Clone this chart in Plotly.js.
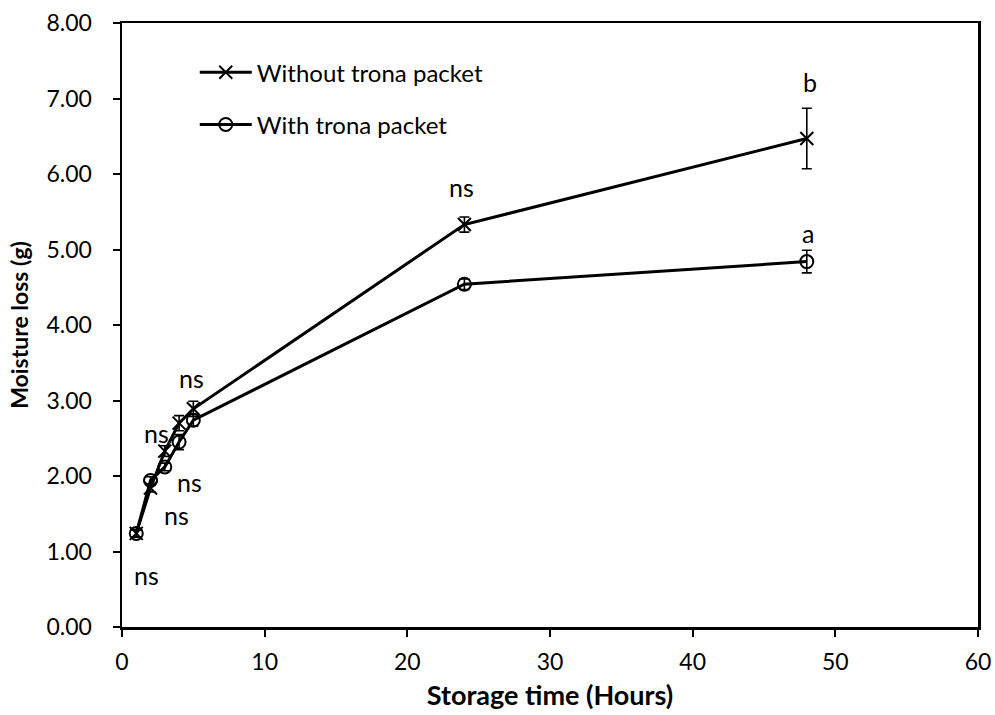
<!DOCTYPE html>
<html>
<head>
<meta charset="utf-8">
<script src="https://cdn.plot.ly/plotly-3.0.1.min.js"></script>
<style>html,body{margin:0;padding:0;background:#fff;}#chart{width:995px;height:715px;}</style>
</head>
<body>
<div id="chart"></div>
<script>
const hours = [1, 2, 3, 4, 5, 24, 48];
const withoutTrona = [1.24, 1.84, 2.33, 2.70, 2.89, 5.33, 6.47];
const withoutErr = [0.05, 0.05, 0.07, 0.10, 0.10, 0.10, 0.40];
const withTrona = [1.24, 1.94, 2.12, 2.45, 2.74, 4.54, 4.84];
const withErr = [0.05, 0.05, 0.05, 0.10, 0.08, 0.07, 0.15];
const labelText = ["ns", "ns", "ns", "ns", "ns", "ns", "b", "a"];
const labelX = [1.7, 3.8, 4.7, 2.4, 4.9, 23.8, 48.2, 48.1];
const labelY = [0.69, 1.48, 1.92, 2.57, 3.30, 5.83, 7.22, 5.22];

const font = "Lato, 'Open Sans', sans-serif";

const traces = [
  {
    x: hours, y: withoutTrona, name: "Without trona packet", legendgroup: "a",
    type: "scatter", mode: "lines+markers",
    line: {color: "#000", width: 3},
    marker: {symbol: "x-thin-open", size: 13, color: "#000", line: {color: "#000", width: 2}},
    error_y: {type: "data", array: withoutErr, visible: true, color: "#000", thickness: 1.6, width: 5}
  },
  {
    x: hours, y: withTrona, name: "With trona packet", legendgroup: "b",
    type: "scatter", mode: "lines+markers",
    line: {color: "#000", width: 3},
    marker: {symbol: "circle-open", size: 13, color: "#000", line: {color: "#000", width: 2}},
    error_y: {type: "data", array: withErr, visible: true, color: "#000", thickness: 1.6, width: 5}
  }
];

const annotations = labelText.map((t, i) => ({
  x: labelX[i], y: labelY[i], xref: "x", yref: "y", text: t, showarrow: false,
  font: {family: font, size: 25, color: "#000"}
}));

const layout = {
  width: 995, height: 715,
  margin: {l: 122, r: 17, t: 23, b: 88},
  paper_bgcolor: "#fff", plot_bgcolor: "#fff",
  font: {family: font, color: "#000", size: 22},
  showlegend: true,
  legend: {x: 0.085, y: 0.955, xanchor: "left", yanchor: "top", bgcolor: "rgba(0,0,0,0)",
    font: {family: font, size: 24, color: "#000"}, tracegroupgap: 18, itemwidth: 52},
  xaxis: {
    range: [0, 60], dtick: 10, tick0: 0, showgrid: false, zeroline: false,
    showline: true, mirror: true, linecolor: "#000", linewidth: 2.5,
    ticks: "outside", ticklen: 7, tickwidth: 2, tickcolor: "#000",
    ticklabelstandoff: 6,
    tickfont: {family: font, size: 23, color: "#000"},
    title: {text: "<b>Storage time (Hours)</b>", font: {family: font, size: 27, color: "#000"}, standoff: 12}
  },
  yaxis: {
    range: [0, 8], dtick: 1, tick0: 0, showgrid: false, zeroline: false,
    showline: true, mirror: true, linecolor: "#000", linewidth: 2.5,
    ticks: "outside", ticklen: 7, tickwidth: 2, tickcolor: "#000",
    tickformat: ".2f", ticklabelstandoff: 16,
    tickfont: {family: font, size: 23, color: "#000"},
    title: {text: "<b>Moisture loss (g)</b>", font: {family: font, size: 23, color: "#000"}, standoff: 12}
  },
  annotations: annotations
};

Plotly.newPlot("chart", traces, layout, {displayModeBar: false, staticPlot: true});
</script>
</body>
</html>
